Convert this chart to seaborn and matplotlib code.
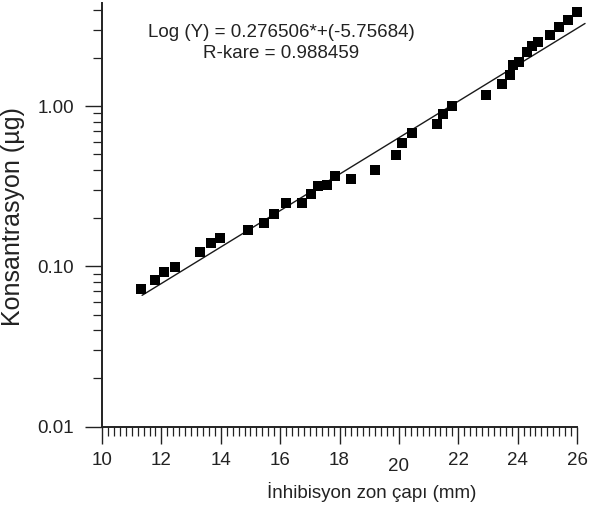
import matplotlib
matplotlib.use('Agg')
import matplotlib.pyplot as plt
from matplotlib.ticker import MultipleLocator, LogLocator, FixedLocator, FormatStrFormatter, NullFormatter
import pandas as pd
import seaborn as sns

# measured points (zone diameter mm, concentration ug)
zon = [11.30, 11.79, 12.09, 12.46, 13.30, 13.67, 13.97, 14.91, 15.44, 15.80,
       16.19, 16.74, 17.05, 17.26, 17.57, 17.85, 18.40, 19.20, 19.89, 20.12,
       20.43, 21.27, 21.48, 21.78, 22.93, 23.48, 23.74, 23.83, 24.05, 24.30,
       24.47, 24.70, 25.09, 25.40, 25.71, 26.00]
kons = [0.0719, 0.0826, 0.0918, 0.0990, 0.1223, 0.1398, 0.151, 0.1677, 0.1868, 0.212,
        0.248, 0.249, 0.284, 0.3155, 0.3235, 0.367, 0.349, 0.397, 0.4927, 0.5876,
        0.6755, 0.769, 0.897, 0.996, 1.166, 1.366, 1.554, 1.795, 1.882, 2.17,
        2.357, 2.507, 2.789, 3.111, 3.424, 3.858]

# regression line as drawn in the figure
fit_x = [11.35, 26.27]
fit_y = [0.0659, 3.28]

eq_lines = ['Log (Y) = 0.276506*+(-5.75684)', 'R-kare = 0.988459']
xticks = [10, 12, 14, 16, 18, 20, 22, 24, 26]
yticks = [0.01, 0.1, 1.0]

df = pd.DataFrame({'zon': zon, 'kons': kons})
fit = pd.DataFrame({'zon': fit_x, 'kons': fit_y})

sns.set_style('ticks')
plt.rcParams['font.family'] = ['Liberation Sans', 'DejaVu Sans']

fig = plt.figure(figsize=(5.9, 5.05), dpi=100)
ax = fig.add_axes([0.1729, 0.1554, 0.8051, 0.8386])

sns.lineplot(data=fit, x='zon', y='kons', ax=ax, color='#1a1a1a', linewidth=1.0,
             clip_on=False)
sns.scatterplot(data=df, x='zon', y='kons', ax=ax, marker='s', s=62,
                color='black', linewidth=0, clip_on=False, zorder=3)

ax.set_yscale('log')
ax.set_xlim(10, 26)
ax.set_ylim(0.01, 4.4)

ax.xaxis.set_major_locator(FixedLocator(xticks))
ax.xaxis.set_minor_locator(MultipleLocator(0.2))
ax.yaxis.set_major_locator(FixedLocator(yticks))
ax.yaxis.set_minor_locator(LogLocator(base=10, subs=range(2, 10)))
ax.yaxis.set_major_formatter(FormatStrFormatter('%.2f'))
ax.yaxis.set_minor_formatter(NullFormatter())

ax.tick_params(which='major', length=12, width=1.0, color='#222222',
               labelsize=13.5, labelcolor='#222222')
ax.tick_params(which='minor', length=6.5, width=0.9, color='#222222')
ax.tick_params(axis='x', which='major', pad=6)
ax.tick_params(axis='y', which='major', pad=8)

# the "20" label sits a little lower in the original
for t in ax.xaxis.get_major_ticks():
    if t.get_loc() == 20:
        t.set_pad(11)

for s in ['top', 'right']:
    ax.spines[s].set_visible(False)
for s in ['left', 'bottom']:
    ax.spines[s].set_linewidth(1.4)
    ax.spines[s].set_color('#222222')

ax.set_xlabel('İnhibisyon zon çapı (mm)', fontsize=13.5, color='#222222')
ax.set_ylabel('Konsantrasyon (µg)', fontsize=18, color='#222222')
ax.xaxis.set_label_coords(0.567, -0.13)
ax.yaxis.set_label_coords(-0.162, 0.495)

ax.text(0.377, 0.9315, eq_lines[0], transform=ax.transAxes, ha='center',
        va='center', fontsize=13.5, color='#222222')
ax.text(0.377, 0.882, eq_lines[1], transform=ax.transAxes, ha='center',
        va='center', fontsize=13.5, color='#222222')

fig.savefig('out.png', dpi=100, facecolor='white')
